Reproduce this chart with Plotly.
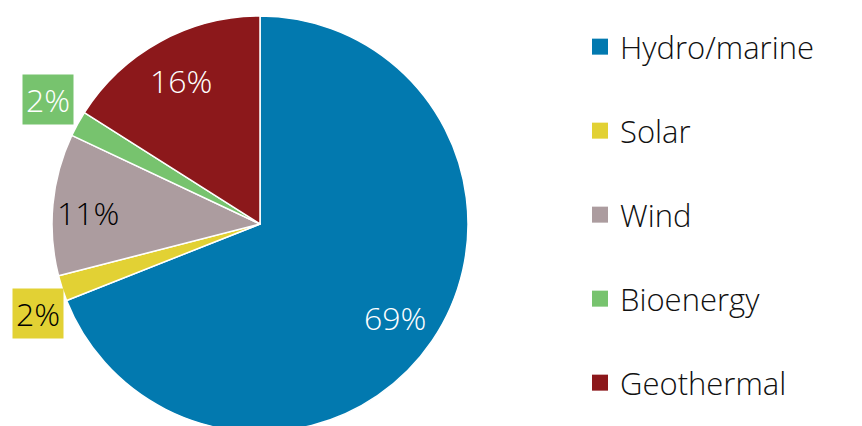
import math
import plotly.graph_objects as go

categories = ["Hydro/marine", "Solar", "Wind", "Bioenergy", "Geothermal"]
values = [69, 2, 11, 2, 16]
colors = ["#0279AF", "#E2D134", "#AC9C9F", "#77C36E", "#8C181B"]
label_text_colors = ["white", "black", "black", "white", "white"]
outside = [False, True, False, True, False]
# label placement tweaks (degrees offset from mid angle, radius as fraction of R)
label_dangle = [0.6, -4.0, -1.7, 1.6, 0.0]
label_rfrac = [0.79, 1.15, 0.83, 1.18, 0.79]

W, H = 862, 440
cx, cy, R = 260, 224, 208
FONT = "Open Sans"

fig = go.Figure()
fig.add_trace(go.Pie(
    labels=categories, values=values, sort=False, direction="clockwise", rotation=0,
    marker=dict(colors=colors, line=dict(color="white", width=1.5)),
    textinfo="none",
    domain=dict(x=[(cx - R) / W, (cx + R) / W], y=[(H - cy - R) / H, (H - cy + R) / H]),
    showlegend=False, hoverinfo="label+percent",
))

# legend entries
for i, (c, col) in enumerate(zip(categories, colors)):
    fig.add_trace(go.Scatter(x=[None], y=[None], mode="markers", name=c,
                             marker=dict(symbol="square", size=17, color=col),
                             legendgroup=f"g{i}", showlegend=True))

# slice labels placed along each slice's mid angle
total = sum(values)
cum = 0
annotations = []
for v, col, tc, o, da, rf in zip(values, colors, label_text_colors, outside,
                                 label_dangle, label_rfrac):
    mid = (cum + v / 2) / total * 2 * math.pi + math.radians(da)
    cum += v
    rr = R * rf
    px = cx + rr * math.sin(mid)
    py = cy - rr * math.cos(mid)
    annotations.append(dict(x=px / W, y=1 - py / H, xref="paper", yref="paper",
                            xanchor="center", yanchor="middle",
                            text=f"{v}%", showarrow=False,
                            bgcolor=col if o else "rgba(0,0,0,0)", borderpad=3,
                            font=dict(family=FONT, size=32, color=tc, weight=300)))

fig.update_layout(
    width=W, height=H, margin=dict(l=0, r=0, t=0, b=0),
    paper_bgcolor="white", plot_bgcolor="white",
    xaxis=dict(visible=False), yaxis=dict(visible=False),
    annotations=annotations,
    legend=dict(x=580 / W, xanchor="left", y=1 - 20 / H, yanchor="top",
                font=dict(family=FONT, size=31, color="#111111", weight=300),
                tracegroupgap=40.7, bgcolor="rgba(0,0,0,0)"),
)

fig.write_html("out.html", config={"displayModeBar": False}, post_script=(
    "document.documentElement.style.overflow='hidden';"
    "document.body.style.overflow='hidden';document.body.style.margin='0';"))
